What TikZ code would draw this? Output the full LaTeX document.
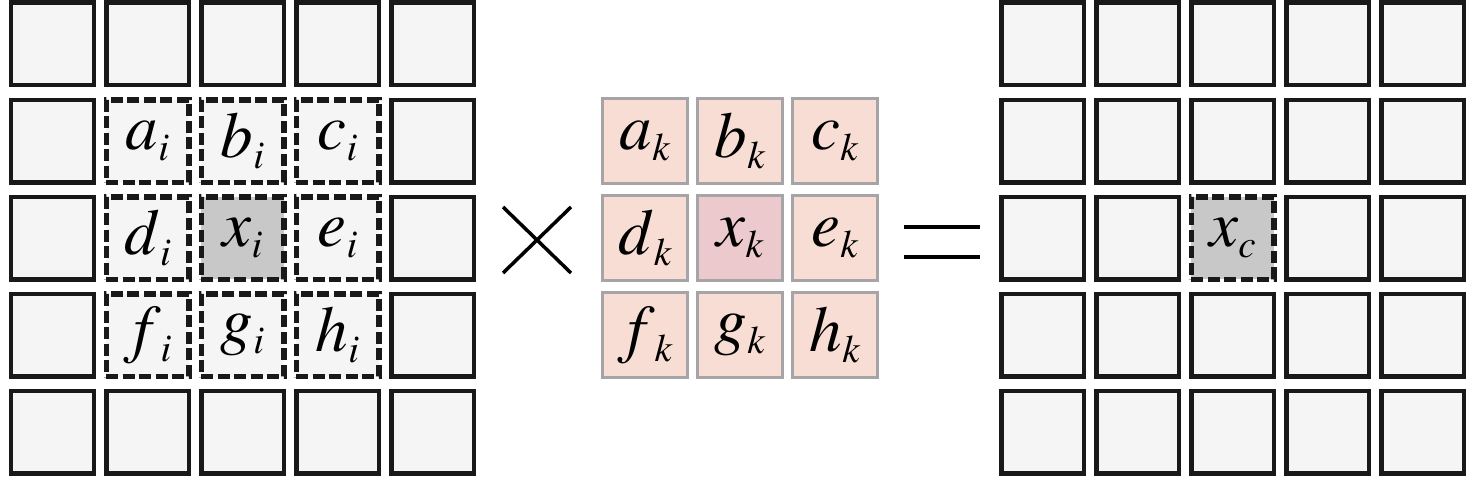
\documentclass[tikz,border=0pt]{standalone}
\usepackage{mathptmx}
\usetikzlibrary{calc}

\definecolor{cellfill}{HTML}{F5F5F5}
\definecolor{centerfill}{HTML}{C8C8C8}
\definecolor{kernfill}{HTML}{F7DDD3}
\definecolor{kernmid}{HTML}{EBC9CC}
\definecolor{kernline}{HTML}{A7A4A7}

% label with italic letter and lowered index
\newcommand{\lab}[2]{$#1\raisebox{-0.11cm}{$\scriptscriptstyle #2$}$}

\tikzset{
  cell/.style={draw=black!90, fill=cellfill, line width=0.045cm, minimum size=0.825cm,
    inner sep=0pt, font=\fontsize{18.5}{18.5}\selectfont},
  dcell/.style={cell, line width=0.055cm, dash pattern=on 0.12cm off 0.045cm},
  kcell/.style={draw=kernline, fill=kernfill, line width=0.032cm, minimum size=0.85cm,
    inner sep=0pt, font=\fontsize{18.5}{18.5}\selectfont},
  sign/.style={line width=0.035cm}
}

\begin{document}
\begin{tikzpicture}
    % Define the spacing
    \def\dx{0.95}
    \def\dy{0.971}
    \def\ytop{4.35}

    \useasboundingbox (0,0) rectangle (14.76,4.79);

    % 1. Input grid (left), plain border cells
    \foreach \r in {0,...,4}{
      \foreach \c in {0,...,4}{
        \pgfmathtruncatemacro\inner{(\r>0)&&(\r<4)&&(\c>0)&&(\c<4)}
        \ifnum\inner=0
          \node[cell] (L\r\c) at ({0.525+\dx*\c},{\ytop-\dy*\r}) {};
        \fi
      }
    }

    % 2. Input grid, dashed neighbourhood
    \foreach \r/\c/\t in {1/1/a,1/2/b,1/3/c,2/1/d,2/3/e,3/1/f,3/2/g,3/3/h}{
      \node[dcell] (L\r\c) at ({0.525+\dx*\c},{\ytop-\dy*\r}) {\lab{\t}{i}};
    }
    \node[dcell, fill=centerfill] (L22) at ({0.525+\dx*2},{\ytop-\dy*2}) {\lab{x}{i}};

    % 3. Kernel
    \foreach \r/\c/\t in {1/0/a,1/1/b,1/2/c,2/0/d,2/2/e,3/0/f,3/1/g,3/2/h}{
      \node[kcell] (K\r\c) at ({6.45+\dx*\c},{\ytop-\dy*\r}) {\lab{\t}{k}};
    }
    \node[kcell, fill=kernmid] (K21) at ({6.45+\dx},{\ytop-\dy*2}) {\lab{x}{k}};

    % 4. Output grid (right)
    \foreach \r in {0,...,4}{
      \foreach \c in {0,...,4}{
        \pgfmathtruncatemacro\mid{(\r==2)&&(\c==2)}
        \ifnum\mid=0
          \node[cell] (R\r\c) at ({10.425+\dx*\c},{\ytop-\dy*\r}) {};
        \fi
      }
    }
    \node[dcell, fill=centerfill] (R22) at ({10.425+\dx*2},{\ytop-\dy*2}) {\lab{x}{c}};

    % 5. Times and equals signs
    \coordinate (T) at (5.37,2.39);
    \draw[sign] ($(T)+(-0.34,0.33)$) -- ($(T)+(0.34,-0.33)$);
    \draw[sign] ($(T)+(-0.34,-0.33)$) -- ($(T)+(0.34,0.33)$);

    \coordinate (E) at (9.42,2.37);
    \draw[sign, line width=0.04cm] ($(E)+(-0.38,0.15)$) -- ($(E)+(0.38,0.15)$);
    \draw[sign, line width=0.04cm] ($(E)+(-0.38,-0.15)$) -- ($(E)+(0.38,-0.15)$);

\end{tikzpicture}
\end{document}
